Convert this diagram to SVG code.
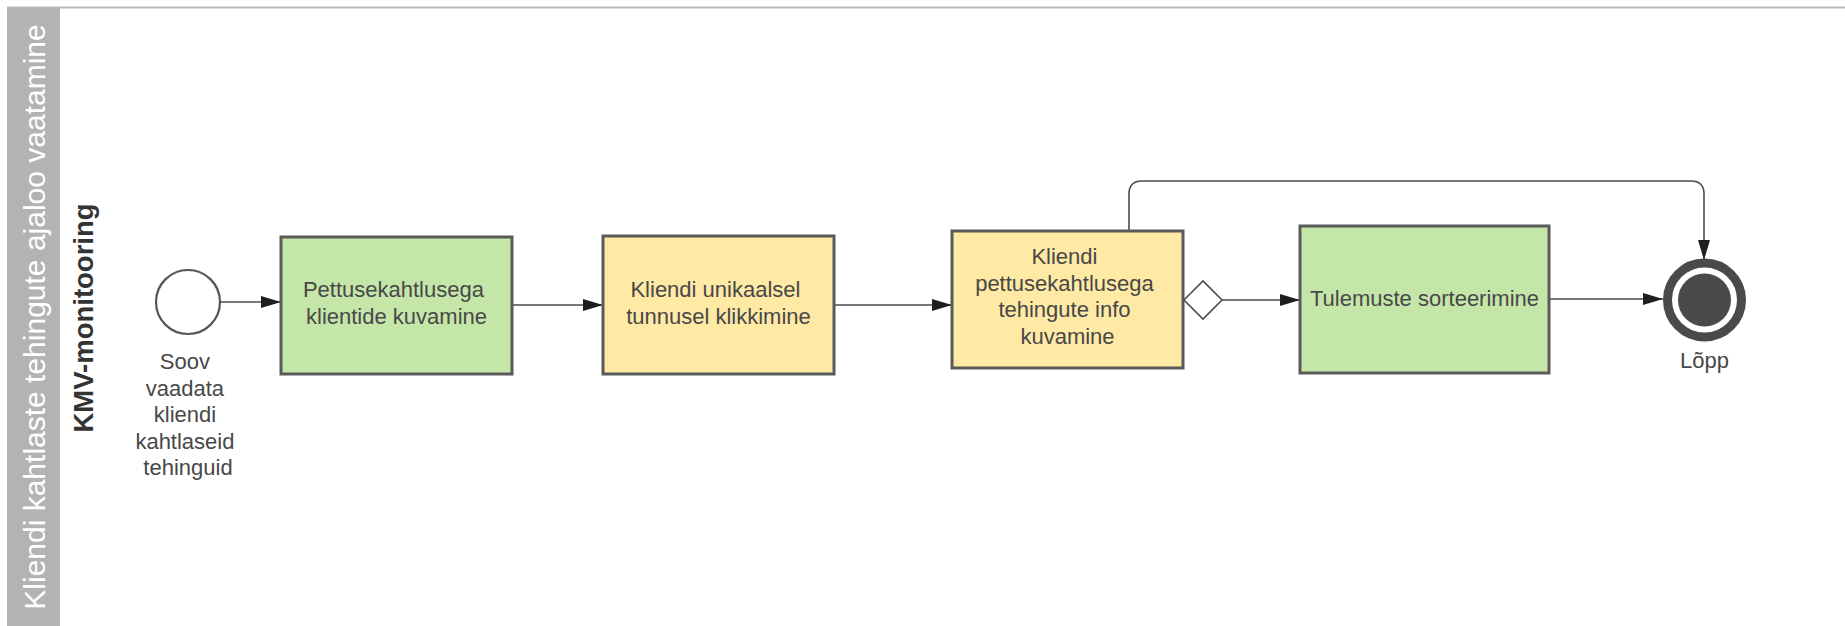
<svg xmlns="http://www.w3.org/2000/svg" width="1845" height="626" viewBox="0 0 1845 626">
  <style>
    .task { stroke: #5a5a5a; stroke-width: 3; }
    .green { fill: #c5e6a9; }
    .yellow { fill: #fee9a5; }
    .label { font-family: "Liberation Sans", Arial, sans-serif; font-size: 22px; fill: #484848; text-anchor: middle; }
    .flow { fill: none; stroke: #4d4d4d; stroke-width: 1.6; }
  </style>
  <defs>
    <marker id="arrow" viewBox="0 0 20 12" refX="20" refY="6" markerWidth="20" markerHeight="12" markerUnits="userSpaceOnUse" orient="auto">
      <path d="M0,0 L20,6 L0,12 Z" fill="#1e1e1e"/>
    </marker>
  </defs>

  <rect width="1845" height="626" fill="#ffffff"/>

  <!-- pool / lane frame -->
  <g id="pool">
    <line x1="7" y1="7.5" x2="1845" y2="7.5" stroke="#b8b8b8" stroke-width="2"/>
    <rect x="7" y="8" width="53" height="618" fill="#b3b3b3"/>
    <text transform="translate(45,317) rotate(-90)" font-family="'Liberation Sans', Arial, sans-serif" font-size="30" fill="#ffffff" text-anchor="middle">Kliendi kahtlaste tehingute ajaloo vaatamine</text>
    <text transform="translate(93,318) rotate(-90)" font-family="'Liberation Sans', Arial, sans-serif" font-size="27.5" font-weight="bold" fill="#333333" text-anchor="middle">KMV-monitooring</text>
  </g>

  <!-- sequence flows -->
  <g id="connectors">
    <line class="flow" x1="220" y1="302" x2="281" y2="302" marker-end="url(#arrow)"/>
    <line class="flow" x1="512" y1="305" x2="603" y2="305" marker-end="url(#arrow)"/>
    <line class="flow" x1="834" y1="305" x2="952" y2="305" marker-end="url(#arrow)"/>
    <line class="flow" x1="1222" y1="300" x2="1300" y2="300" marker-end="url(#arrow)"/>
    <line class="flow" x1="1549" y1="299" x2="1663" y2="299" marker-end="url(#arrow)"/>
    <path class="flow" d="M1129,231 V194 Q1129,181 1142,181 H1691 Q1704,181 1704,194 V260" marker-end="url(#arrow)"/>
  </g>

  <g id="start">
    <circle cx="188" cy="302" r="32" fill="#ffffff" stroke="#555555" stroke-width="2.2"/>
    <text class="label">
      <tspan x="188" y="369">Soov</tspan>
      <tspan x="188" y="395.5">vaadata</tspan>
      <tspan x="188" y="422">kliendi</tspan>
      <tspan x="188" y="448.5">kahtlaseid</tspan>
      <tspan x="188" y="475">tehinguid</tspan>
    </text>
  </g>

  <g id="task1">
    <rect class="task green" x="281" y="237" width="231" height="137"/>
    <text class="label">
      <tspan x="396.5" y="297">Pettusekahtlusega</tspan>
      <tspan x="396.5" y="323.5">klientide kuvamine</tspan>
    </text>
  </g>

  <g id="task2">
    <rect class="task yellow" x="603" y="236" width="231" height="138"/>
    <text class="label">
      <tspan x="718.5" y="297">Kliendi unikaalsel</tspan>
      <tspan x="718.5" y="323.5">tunnusel klikkimine</tspan>
    </text>
  </g>

  <g id="task3">
    <rect class="task yellow" x="952" y="231" width="231" height="137"/>
    <text class="label">
      <tspan x="1067.5" y="264">Kliendi</tspan>
      <tspan x="1067.5" y="290.5">pettusekahtlusega</tspan>
      <tspan x="1067.5" y="317">tehingute info</tspan>
      <tspan x="1067.5" y="343.5">kuvamine</tspan>
    </text>
  </g>

  <g id="gateway">
    <path d="M1184,300 L1203,281 L1222,300 L1203,319 Z" fill="#ffffff" stroke="#4d4d4d" stroke-width="1.6"/>
  </g>

  <g id="task4">
    <rect class="task green" x="1300" y="226" width="249" height="147"/>
    <text class="label" x="1424.5" y="306">Tulemuste sorteerimine</text>
  </g>

  <g id="end">
    <circle cx="1704.5" cy="300" r="37" fill="#ffffff" stroke="#4a4a4a" stroke-width="9"/>
    <circle cx="1704.5" cy="300" r="26.5" fill="#4a4a4a"/>
    <text class="label" x="1704.5" y="368">Lõpp</text>
  </g>
</svg>
